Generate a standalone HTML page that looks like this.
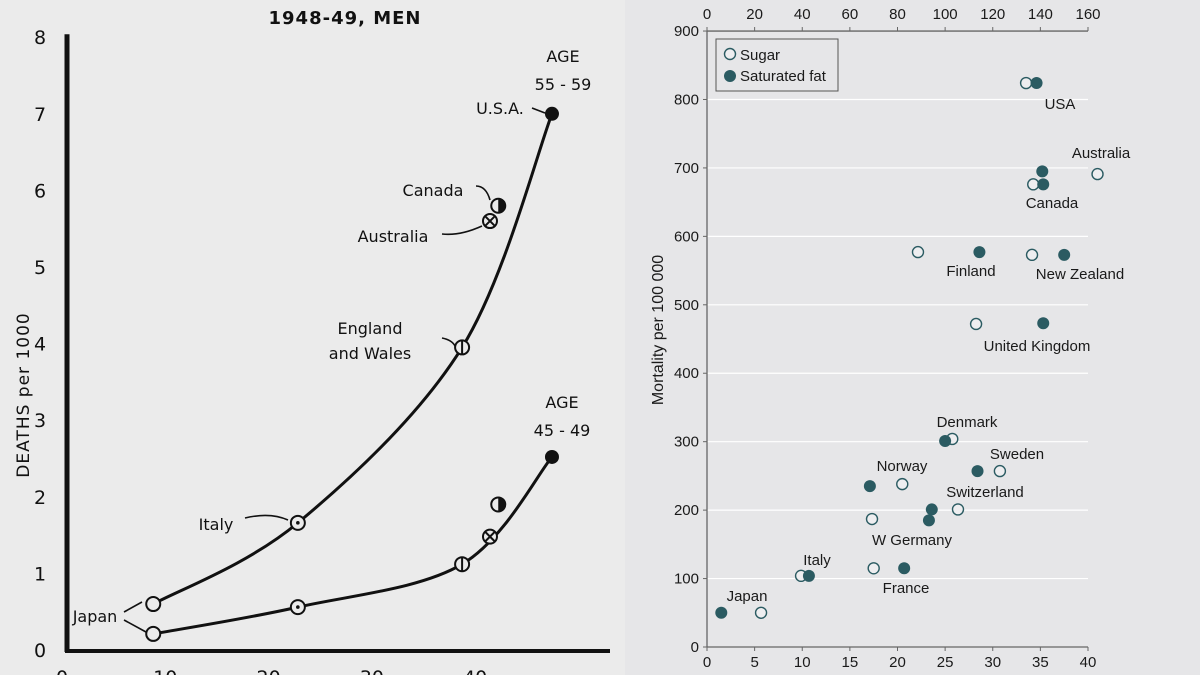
<!DOCTYPE html>
<html><head><meta charset="utf-8"><style>
html,body{margin:0;padding:0;background:#e9e9e9;}
svg{display:block;}
.l{font-family:"DejaVu Sans","Liberation Sans",sans-serif;fill:#111;}
.r{font-family:"Liberation Sans",sans-serif;fill:#1a1a1a;}
</style></head><body>
<svg id="c" width="1200" height="675" viewBox="0 0 1200 675" xmlns="http://www.w3.org/2000/svg">
<rect x="0" y="0" width="625" height="675" fill="#ebebeb"/>
<rect x="625" y="0" width="575" height="675" fill="#e6e6e8"/>
<g id="left"></g>
<g id="right"></g>
</svg>
<script>
// ---------- LEFT CHART DATA ----------
const lCountries = ["Japan","Italy","England and Wales","Australia","Canada","U.S.A."];
const lFat = [9.8, 23.8, 39.7, 42.4, 43.2, 48.4];
const lOld = [0.6, 1.66, 3.95, 5.6, 5.8, 7.0];      // age 55-59
const lYoung = [0.21, 0.56, 1.12, 1.48, 1.9, 2.52]; // age 45-49
const lYTicks = [0,1,2,3,4,5,6,7,8];
const lXTicks = [0,10,20,30,40];
const lMarks = ["open","dot","bar","cross","half","filled"];

// ---------- RIGHT CHART DATA ----------
const rCountries = ["USA","Australia","Canada","Finland","New Zealand","United Kingdom","Denmark","Sweden","Norway","Switzerland","W Germany","France","Italy","Japan"];
const rSugar = [134,164,137,88.6,136.5,113,103,123,82,105.4,69.3,70,39.5,22.7];
const rSugarMort = [824,691,676,577,573,472,304,257,238,201,187,115,104,50];
const rFat = [34.6,35.2,35.3,28.6,37.5,35.3,25,28.4,17.1,23.6,23.3,20.7,10.7,1.5];
const rFatMort = [824,695,676,577,573,473,301,257,235,201,185,115,104,50];
const rYTicks = [0,100,200,300,400,500,600,700,800,900];
const rTopTicks = [0,20,40,60,80,100,120,140,160];
const rBotTicks = [0,5,10,15,20,25,30,35,40];

const NS="http://www.w3.org/2000/svg";
function mk(parent,tag,attrs,text){const e=document.createElementNS(NS,tag);for(const k in attrs)e.setAttribute(k,attrs[k]);if(text!==undefined)e.textContent=text;parent.appendChild(e);return e;}

// ---- left ----
const L=document.getElementById('left');
const lx=v=>52+10.33*v, ly=v=>650-76.6*v;
let e;
e=mk(L,'line',{x1:67,y1:ly(8)-3,x2:67,y2:652,stroke:'#111','stroke-width':5});

e=mk(L,'line',{x1:65,y1:651,x2:610,y2:651,stroke:'#111','stroke-width':4});

lYTicks.forEach(t=>{e=mk(L,'text',{x:40,y:ly(t)+7,'font-size':19,'text-anchor':'middle',class:'l'},String(t));
});
lXTicks.forEach(t=>{e=mk(L,'text',{x:lx(t)+10,y:684,'font-size':19,'text-anchor':'middle',class:'l'},String(t));
});
e=mk(L,'text',{x:345,y:24,'font-size':18,'font-weight':'bold','text-anchor':'middle',class:'l','letter-spacing':'1'},'1948-49, MEN');

e=mk(L,'text',{x:0,y:0,'font-size':17,'text-anchor':'middle',class:'l',transform:'translate(29,395) rotate(-90)','letter-spacing':'1'},'DEATHS  per  1000');

function smooth(pts){let d=`M${pts[0][0]},${pts[0][1]}`;for(let i=0;i<pts.length-1;i++){const p0=pts[Math.max(0,i-1)],p1=pts[i],p2=pts[i+1],p3=pts[Math.min(pts.length-1,i+2)];
d+=` C${p1[0]+(p2[0]-p0[0])/6},${p1[1]+(p2[1]-p0[1])/6} ${p2[0]-(p3[0]-p1[0])/6},${p2[1]-(p3[1]-p1[1])/6} ${p2[0]},${p2[1]}`;}return d;}
const upIdx=[0,1,2,5], loIdx=[0,1,2,5];
e=mk(L,'path',{d:smooth(upIdx.map(i=>[lx(lFat[i]),ly(lOld[i])])),fill:'none',stroke:'#111','stroke-width':3});

e=mk(L,'path',{d:smooth(loIdx.map(i=>[lx(lFat[i]),ly(lYoung[i])])),fill:'none',stroke:'#111','stroke-width':3});

function marker(x,y,type){const g=mk(L,'g',{});

const r=7;
if(type==='filled'){mk(g,'circle',{cx:x,cy:y,r:r,fill:'#111'});return;}
mk(g,'circle',{cx:x,cy:y,r:r,fill:'#ebebeb',stroke:'#111','stroke-width':2});
if(type==='dot')mk(g,'circle',{cx:x,cy:y,r:1.8,fill:'#111'});
if(type==='bar')mk(g,'line',{x1:x,y1:y-r,x2:x,y2:y+r,stroke:'#111','stroke-width':2});
if(type==='cross'){mk(g,'line',{x1:x-5,y1:y-5,x2:x+5,y2:y+5,stroke:'#111','stroke-width':2});mk(g,'line',{x1:x-5,y1:y+5,x2:x+5,y2:y-5,stroke:'#111','stroke-width':2});}
if(type==='half')mk(g,'path',{d:`M${x},${y-r} A${r},${r} 0 0 1 ${x},${y+r} Z`,fill:'#111'});}
lFat.forEach((v,i)=>{marker(lx(v),ly(lOld[i]),lMarks[i]);marker(lx(v),ly(lYoung[i]),lMarks[i]);});
const lLabels=[["AGE",563,62],["55 - 59",563,90],["AGE",562,408],["45 - 49",562,436],["U.S.A.",500,114],["Canada",433,196],["Australia",393,242],["England",370,334],["and Wales",370,359],["Italy",216,530],["Japan",95,622]];
lLabels.forEach(a=>{e=mk(L,'text',{x:a[1],y:a[2],'font-size':16,'text-anchor':'middle',class:'l'},a[0]);
});
const arrows=["M532,108 L545,113","M476,186 Q486,186 490,200","M442,234 Q460,236 482,226","M442,338 Q452,340 455,346","M245,518 Q270,512 288,520","M124,612 L142,602","M124,620 L146,632"];
arrows.forEach(d=>{e=mk(L,'path',{d:d,fill:'none',stroke:'#111','stroke-width':1.6});
});

// ---- right ----
const R=document.getElementById('right');
const X0=707,X1=1088,Y0=647;
const ry=v=>Y0-v*0.6844, xs=v=>X0+(X1-X0)*v/160, xf=v=>X0+(X1-X0)*v/40;
rYTicks.forEach(t=>{if(t>0&&t<900){e=mk(R,'line',{x1:X0,y1:ry(t),x2:X1,y2:ry(t),stroke:'#fff','stroke-width':1.2});
}
e=mk(R,'text',{x:X0-8,y:ry(t)+5,'font-size':15,'text-anchor':'end',class:'r'},String(t));

mk(R,'line',{x1:X0-4,y1:ry(t),x2:X0,y2:ry(t),stroke:'#666'});});
e=mk(R,'line',{x1:X0,y1:ry(900),x2:X0,y2:Y0,stroke:'#666','stroke-width':1.3});

e=mk(R,'line',{x1:X0,y1:ry(900),x2:X1,y2:ry(900),stroke:'#666','stroke-width':1.3});

e=mk(R,'line',{x1:X0,y1:Y0,x2:X1,y2:Y0,stroke:'#666','stroke-width':1.3});

rTopTicks.forEach(t=>{mk(R,'line',{x1:xs(t),y1:ry(900)-4,x2:xs(t),y2:ry(900),stroke:'#666'});
e=mk(R,'text',{x:xs(t),y:19,'font-size':15,'text-anchor':'middle',class:'r'},String(t));
});
rBotTicks.forEach(t=>{mk(R,'line',{x1:xf(t),y1:Y0,x2:xf(t),y2:Y0+4,stroke:'#666'});
e=mk(R,'text',{x:xf(t),y:667,'font-size':15,'text-anchor':'middle',class:'r'},String(t));
});
e=mk(R,'text',{x:0,y:0,'font-size':16,'text-anchor':'middle',class:'r',transform:'translate(663,330) rotate(-90)'},'Mortality per 100 000');

const teal='#2b5b62';
rCountries.forEach((c,i)=>{
e=mk(R,'circle',{cx:xs(rSugar[i]),cy:ry(rSugarMort[i]),r:5.5,fill:'#eeeef0',stroke:teal,'stroke-width':1.4});

e=mk(R,'circle',{cx:xf(rFat[i]),cy:ry(rFatMort[i]),r:6,fill:teal});
});
const rLabels=[["USA",1060,109],["Australia",1101,158],["Canada",1052,208],["Finland",971,276],["New Zealand",1080,279],["United Kingdom",1037,351],["Denmark",967,427],["Sweden",1017,459],["Norway",902,471],["Switzerland",985,497],["W Germany",912,545],["France",906,593],["Italy",817,565],["Japan",747,601]];
rLabels.forEach(a=>{e=mk(R,'text',{x:a[1],y:a[2],'font-size':15,'text-anchor':'middle',class:'r'},a[0]);
});
const lg=mk(R,'g',{});

mk(lg,'rect',{x:716,y:39,width:122,height:52,fill:'#e6e6e8',stroke:'#555','stroke-width':1});
e=mk(lg,'circle',{cx:730,cy:54,r:5.5,fill:'#eeeef0',stroke:teal,'stroke-width':1.4});

e=mk(lg,'text',{x:740,y:60,'font-size':15,class:'r'},'Sugar');

e=mk(lg,'circle',{cx:730,cy:76,r:6,fill:teal});

e=mk(lg,'text',{x:740,y:81,'font-size':15,class:'r'},'Saturated fat');

</script>
</body></html>
